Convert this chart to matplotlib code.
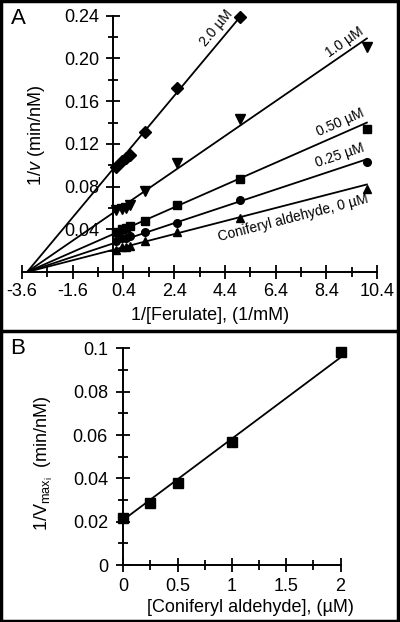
import numpy as np
import matplotlib
matplotlib.use('Agg')
import matplotlib.pyplot as plt
from matplotlib.patches import Rectangle
from matplotlib.lines import Line2D

plt.rcParams['font.family'] = ['Liberation Sans', 'DejaVu Sans']
plt.rcParams['mathtext.fontset'] = 'custom'
plt.rcParams['mathtext.rm'] = 'Liberation Sans'
plt.rcParams['mathtext.it'] = 'Liberation Sans:italic'

# ---- panel A data: 1/v vs 1/[Ferulate] at several inhibitor levels
inv_ferulate = [0.1, 0.33, 0.5, 0.67, 1.25, 2.5, 5.0, 10.0]
v_0uM = [0.0206, 0.0231, 0.0237, 0.0243, 0.0293, 0.0377, 0.0503, 0.0774]
v_025uM = [0.0290, 0.0316, 0.0321, 0.0337, 0.0375, 0.0462, 0.0674, 0.1033]
v_050uM = [0.0377, 0.0403, 0.0415, 0.0428, 0.0480, 0.0627, 0.0868, 0.1336]
v_10uM = [0.0580, 0.0587, 0.0602, 0.0625, 0.0758, 0.1018, 0.1430, 0.2110]
v_20uM = [0.0980, 0.1039, 0.1065, 0.1096, 0.1308, 0.1726, 0.2390]

# fitted lines (common x-intercept, y-intercepts)
x_intercept = -3.4
fit_icept = [0.0208, 0.0268, 0.0355, 0.0555, 0.0967]

series = [v_0uM, v_025uM, v_050uM, v_10uM, v_20uM]
markers = ['^', 'o', 's', 'v', 'D']
msizes = [6, 5.5, 6, 6.5, 6.5]
labels = ['Coniferyl aldehyde, 0 \u00b5M', '0.25 \u00b5M', '0.50 \u00b5M',
          '1.0 \u00b5M', '2.0 \u00b5M']
lab_pos = [(7.10, 0.0503), (8.94, 0.1096), (8.94, 0.1398), (9.14, 0.2156),
           (4.08, 0.2282)]

# ---- panel B data: 1/Vmax_i vs [Coniferyl aldehyde]
conc = [0, 0.25, 0.5, 1.0, 2.0]
inv_vmax = [0.0215, 0.0288, 0.0377, 0.0569, 0.0984]
fit_b = (0.0375, 0.0208)  # slope, intercept

fs = 13

fig = plt.figure(figsize=(4, 6.22), dpi=100)

#################### panel A
ax1 = fig.add_axes([0.055, 0.5627, 0.8875, 0.412])
for ys, m, ms, b, lab, pos in zip(series, markers, msizes, fit_icept, labels, lab_pos):
    xs = inv_ferulate[:len(ys)]
    slope = -b / x_intercept
    xl = np.array([x_intercept, xs[-1]])
    ax1.plot(xl, b + slope * xl, color='black', lw=1.3)
    ax1.plot(xs, ys, ls='none', marker=m, ms=ms, color='black', clip_on=False)
    ax1.text(pos[0], pos[1], lab, fontsize=10, ha='center', va='center',
             rotation=np.degrees(np.arctan(slope)), rotation_mode='anchor',
             transform_rotates_text=True)

ax1.set_xlim(-3.6, 10.4)
ax1.set_ylim(0, 0.24)
ax1.spines['left'].set_position(('data', 0))
ax1.spines['top'].set_visible(False)
ax1.spines['right'].set_visible(False)
for s in ['left', 'bottom']:
    ax1.spines[s].set_linewidth(1.4)

xt = np.arange(-3.6, 10.41, 2.0)
ax1.set_xticks(xt)
ax1.set_xticklabels(['%.1f' % v for v in xt])
ax1.set_xticks(np.arange(-2.6, 10.4, 2.0), minor=True)
yt = np.arange(0.04, 0.241, 0.04)
ax1.set_yticks(yt)
ax1.set_yticklabels(['%.2f' % v for v in yt])
ax1.set_yticks(np.arange(0.02, 0.23, 0.04), minor=True)
ax1.tick_params(which='major', direction='inout', length=10, width=1.3, labelsize=fs)
ax1.tick_params(which='minor', direction='inout', length=7, width=1.3)
ax1.tick_params(axis='y', pad=5)
ax1.tick_params(axis='x', pad=3)

ax1.set_xlabel('1/[Ferulate], (1/mM)', fontsize=fs)
ax1.xaxis.set_label_coords(0.53, -0.168)
ax1.xaxis.label.set_va('center')
ax1.set_ylabel('1/$\\it{v}$ (min/nM)', fontsize=fs)
ax1.yaxis.set_label_coords(0.041, 0.531)
ax1.yaxis.label.set_va('center')

#################### panel B
ax2 = fig.add_axes([0.308, 0.0916, 0.5435, 0.3484])
xb = np.array([conc[0], conc[-1]])
ax2.plot(xb, np.polyval(fit_b, xb), color='black', lw=1.3)
ax2.plot(conc, inv_vmax, ls='none', marker='s', ms=6.5, color='black', clip_on=False)
ax2.set_xlim(0, 2)
ax2.set_ylim(0, 0.1)
ax2.spines['top'].set_visible(False)
ax2.spines['right'].set_visible(False)
for s in ['left', 'bottom']:
    ax2.spines[s].set_linewidth(1.4)
ax2.set_xticks([0, 0.5, 1, 1.5, 2])
ax2.set_xticklabels(['0', '0.5', '1', '1.5', '2'])
ax2.set_xticks([0.25, 0.75, 1.25, 1.75], minor=True)
ax2.set_yticks([0, 0.02, 0.04, 0.06, 0.08, 0.1])
ax2.set_yticklabels(['0', '0.02', '0.04', '0.06', '0.08', '0.1'])
ax2.set_yticks(np.arange(0.01, 0.1, 0.02), minor=True)
ax2.tick_params(which='major', direction='inout', length=10, width=1.3, labelsize=fs)
ax2.tick_params(which='minor', direction='inout', length=7, width=1.3)
ax2.tick_params(axis='y', pad=6)
ax2.tick_params(axis='x', pad=4)

ax2.set_xlabel('[Coniferyl aldehyde], (\u00b5M)', fontsize=fs)
ax2.xaxis.set_label_coords(0.583, -0.198)
ax2.xaxis.label.set_va('center')
ax2.set_ylabel('1/$\\mathrm{V}_{\\mathrm{max}_\\mathrm{i}}$  (min/nM)', fontsize=fs)
ax2.yaxis.set_label_coords(-0.365, 0.47)
ax2.yaxis.label.set_va('center')

# panel letters and frames
fig.text(18 / 400, 1 - 19 / 622, 'A', fontsize=16, ha='center', va='center')
fig.text(18 / 400, 1 - 348 / 622, 'B', fontsize=16, ha='center', va='center')
fig.patches.append(Rectangle((0.003, 0.002), 0.992, 0.996, transform=fig.transFigure,
                             fill=False, lw=2.5, ec='black'))
fig.lines.append(Line2D([0, 1], [1 - 331 / 622] * 2, transform=fig.transFigure,
                        color='black', lw=2.5))

fig.savefig('out.png', dpi=100)
